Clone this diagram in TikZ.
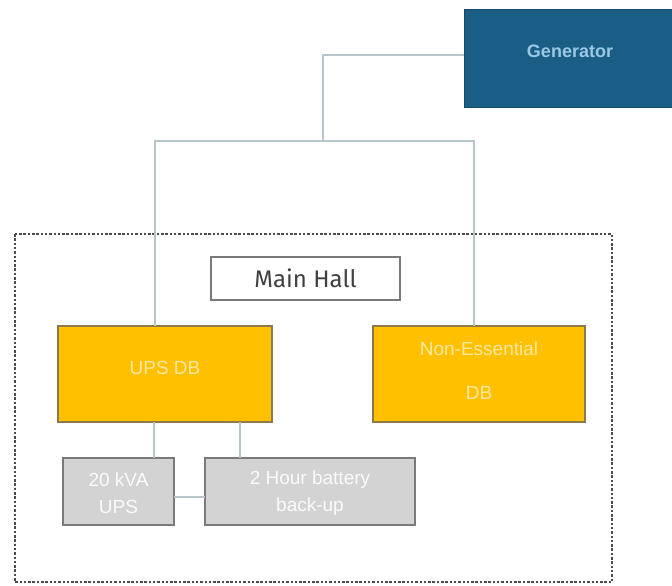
\documentclass[tikz,border=0pt]{standalone}
\usepackage{fontspec}
\setmainfont{Liberation Sans}
\newfontfamily\hallfont{Fira Sans}
\definecolor{genblue}{HTML}{1A5E85}
\definecolor{gentext}{HTML}{9CC8E6}
\definecolor{ambr}{HTML}{FFC000}
\definecolor{ambrline}{HTML}{8C7A4E}
\definecolor{ambrtext}{HTML}{FFE7A0}
\definecolor{greyfill}{HTML}{D3D3D3}
\definecolor{greyline}{HTML}{7A7A7A}
\definecolor{wire}{HTML}{B5C5CA}
\definecolor{halltext}{HTML}{404040}
\tikzset{
  wireline/.style={draw=wire, line width=1.3pt},
  genbox/.style={fill=genblue, draw=genblue!80!black, line width=1pt},
  dbbox/.style={fill=ambr, draw=ambrline, line width=1.4pt},
  greybox/.style={fill=greyfill, draw=greyline, line width=1.6pt},
  hallbox/.style={fill=white, draw=greyline, line width=1.2pt},
  zonebox/.style={draw=black!70, line width=1.2pt, dash pattern=on 2.5pt off 1.8pt},
}
\begin{document}
\begin{tikzpicture}[x=1pt,y=-1pt]
\useasboundingbox (0,0) rectangle (672,586);
% zone
\draw[zonebox] (15,234) rectangle (612,582);
% boxes
\draw[genbox] (464,10) rectangle (672,107);
\node (gen) [font=\bfseries\fontsize{18}{20}\selectfont, text=gentext] at (570,51) {Generator};
\draw[hallbox] (211,257) rectangle (400,300);
\node (hall) [font=\hallfont\fontsize{24}{26}\selectfont, text=halltext] at (305.5,278) {Main Hall};
\draw[dbbox] (58,326) rectangle (272,422);
\node (ups) [font=\fontsize{19}{21}\selectfont, text=ambrtext] at (165,368) {UPS DB};
\draw[dbbox] (373,326) rectangle (585,422);
\node (ness) [font=\fontsize{19}{44}\selectfont, text=ambrtext, align=center] at (479,371) {Non-Essential\\DB};
\draw[greybox] (63,458) rectangle (174,525);
\node (kva) [font=\fontsize{19}{27}\selectfont, text=white!92!greyfill, align=center] at (118.5,493) {20 kVA\\UPS};
\draw[greybox] (205,458) rectangle (415,525);
\node (bat) [font=\fontsize{19}{27}\selectfont, text=white!92!greyfill, align=center] at (310,493) {2 Hour battery\\back-up};
% named anchors
\coordinate (genL) at (464,55);
\coordinate (j1) at (323,55);
\coordinate (j2) at (323,141);
\coordinate (bL) at (155,141);
\coordinate (bR) at (474,141);
\coordinate (upsT) at (155,326);
\coordinate (nessT) at (474,326);
\coordinate (upsB1) at (154,422);
\coordinate (upsB2) at (240,422);
\coordinate (kvaT) at (154,458);
\coordinate (batT) at (240,458);
\coordinate (kvaR) at (174,497);
\coordinate (batL) at (205,497);
% wires
\draw[wireline] (genL) -- (j1) -- (j2);
\draw[wireline] (upsT) -- (bL) -- (bR) -- (nessT);
\draw[wireline] (upsB1) -- (kvaT);
\draw[wireline] (upsB2) -- (batT);
\draw[wireline] (kvaR) -- (batL);
\end{tikzpicture}
\end{document}
